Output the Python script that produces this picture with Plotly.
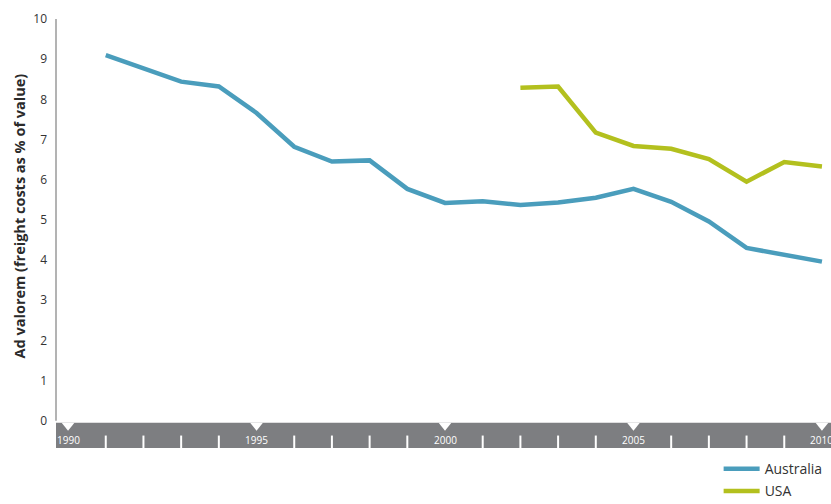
import plotly.graph_objects as go

# Ad valorem freight costs, % of import value
years_aus = list(range(1991, 2011))
australia = [9.10, 8.78, 8.44, 8.32, 7.66, 6.82, 6.45, 6.48, 5.77, 5.42,
             5.46, 5.37, 5.43, 5.55, 5.77, 5.45, 4.96, 4.30, 4.13, 3.96]
years_usa = list(range(2002, 2011))
usa = [8.29, 8.32, 7.17, 6.84, 6.77, 6.51, 5.95, 6.44, 6.33]

major_years = [1990, 1995, 2000, 2005, 2010]
minor_years = [y for y in range(1991, 2010) if y not in major_years]
y_ticks = list(range(0, 11))

AUS_COLOR = "#4a9dbc"
USA_COLOR = "#b3c01e"
BAND_COLOR = "#7d7e81"
FONT = "Open Sans"

X_RANGE = [1989.68, 2010.24]
Y_RANGE = [-0.68, 10.0]
BAND_TOP = -0.05

fig = go.Figure()
fig.add_trace(go.Scatter(x=years_aus, y=australia, mode="lines", name="Australia",
                         legendgroup="aus",
                         line=dict(color=AUS_COLOR, width=4.5)))
fig.add_trace(go.Scatter(x=years_usa, y=usa, mode="lines", name="USA",
                         legendgroup="usa",
                         line=dict(color=USA_COLOR, width=4.5)))

shapes = []
# grey timeline band under the zero line
shapes.append(dict(type="rect", xref="paper", yref="y", x0=0, x1=1,
                   y0=Y_RANGE[0], y1=BAND_TOP, fillcolor=BAND_COLOR,
                   line=dict(width=0), layer="below"))
# vertical axis line from 0 to 10
shapes.append(dict(type="line", xref="paper", yref="y", x0=0, x1=0,
                   y0=0, y1=10, line=dict(color="#9a9a9a", width=1.5)))
# notches marking every fifth year
for yr in major_years:
    shapes.append(dict(type="path", xref="x", yref="y",
                       path=f"M {yr-0.17},{BAND_TOP} L {yr+0.17},{BAND_TOP} L {yr},{BAND_TOP-0.2} Z",
                       fillcolor="white", line=dict(width=0)))
# small white ticks for the other years
for yr in minor_years:
    shapes.append(dict(type="line", xref="x", yref="y", x0=yr, x1=yr,
                       y0=Y_RANGE[0], y1=-0.37, line=dict(color="white", width=2)))

annotations = []
for yr in major_years:
    annotations.append(dict(x=yr, y=-0.47, xref="x", yref="y", text=str(yr),
                            showarrow=False, font=dict(family=FONT, size=10, color="white"),
                            xanchor="center", yanchor="middle"))
annotations.append(dict(x=-0.0465, y=0.542, xref="paper", yref="paper",
                        text="<b>Ad valorem (freight costs as % of value)</b>",
                        textangle=-90, showarrow=False,
                        font=dict(family=FONT, size=14.5, color="#2a2a2a"),
                        xanchor="center", yanchor="middle"))

fig.update_layout(
    width=831, height=504,
    margin=dict(l=56, r=0, t=19, b=56, autoexpand=False),
    paper_bgcolor="white", plot_bgcolor="white",
    font=dict(family=FONT, color="#333333"),
    xaxis=dict(range=X_RANGE, showgrid=False, zeroline=False, showline=False,
               showticklabels=False, ticks=""),
    yaxis=dict(range=Y_RANGE, tickvals=y_ticks, showgrid=False, zeroline=False,
               showline=False, ticks="", ticklabelstandoff=8,
               tickfont=dict(family=FONT, size=12, color="#333333")),
    shapes=shapes,
    annotations=annotations,
    showlegend=True,
    legend=dict(x=0.855, y=-0.012, xanchor="left", yanchor="top",
                font=dict(family=FONT, size=14, color="#333333"),
                bgcolor="rgba(0,0,0,0)", itemwidth=36, tracegroupgap=1),
)

fig.write_html("out.html")
